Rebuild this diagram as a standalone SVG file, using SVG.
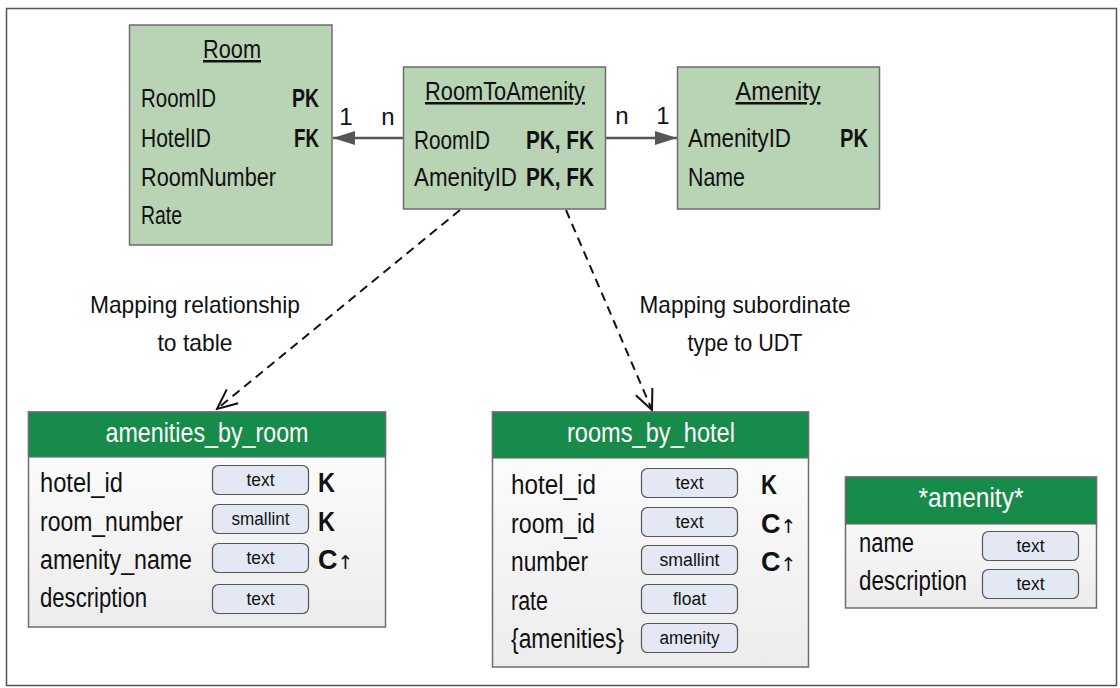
<svg xmlns="http://www.w3.org/2000/svg" width="1120" height="688" viewBox="0 0 1120 688">
<defs>
<linearGradient id="body" x1="0" y1="0" x2="0" y2="1">
<stop offset="0" stop-color="#ffffff"/>
<stop offset="1" stop-color="#ececec"/>
</linearGradient>
<marker id="solidHead" viewBox="0 0 22 14" refX="22" refY="7" markerWidth="22" markerHeight="14" markerUnits="userSpaceOnUse" orient="auto">
<path d="M0,0 L22,7 L0,14 Z" fill="#555555"/>
</marker>
<marker id="openHead" viewBox="0 0 24 24" refX="22" refY="12" markerWidth="24" markerHeight="24" markerUnits="userSpaceOnUse" orient="auto">
<path d="M2,3 L22,12 L2,21" fill="none" stroke="#111111" stroke-width="2"/>
</marker>
</defs>
<style>
text{font-family:"Liberation Sans",Arial,sans-serif;fill:#111111}
.er{fill:#b9d3b5;stroke:#6e6e6e;stroke-width:1.5}
.hdr{fill:#178b49;stroke:#6e6e6e;stroke-width:1.2}
.bdy{fill:url(#body);stroke:#6e6e6e;stroke-width:1.5}
.typ{fill:#e4e8f4;stroke:#555555;stroke-width:1.2}
.f{font-size:25px}
.g{font-size:27px}
.fb{font-size:25px;font-weight:bold}
.gb{font-size:27px;font-weight:bold}
.t{font-size:18px;text-anchor:middle}
.h{font-size:27px;fill:#ffffff;text-anchor:middle}
.ttl{font-size:25px;text-anchor:middle;text-decoration:underline}
.lbl{font-size:24px;text-anchor:middle}
.r{text-anchor:end}
.up{font-family:"DejaVu Sans",sans-serif;font-weight:normal;font-size:19px;fill:#111111}
</style>
<rect x="6.5" y="8.5" width="1110" height="677" fill="#ffffff" stroke="#555555" stroke-width="1.5"/>

<g id="connectors">
<line x1="403" y1="138" x2="333" y2="138" stroke="#555555" stroke-width="2.5" marker-end="url(#solidHead)"/>
<line x1="606" y1="138" x2="677" y2="138" stroke="#555555" stroke-width="2.5" marker-end="url(#solidHead)"/>
<line x1="460" y1="210" x2="217" y2="409" stroke="#111111" stroke-width="2" stroke-dasharray="9,6" marker-end="url(#openHead)"/>
<line x1="566" y1="210" x2="652" y2="410" stroke="#111111" stroke-width="2" stroke-dasharray="9,6" marker-end="url(#openHead)"/>
<text class="lbl" x="346" y="125">1</text>
<text class="lbl" x="388" y="125">n</text>
<text class="lbl" x="622" y="124">n</text>
<text class="lbl" x="663" y="124">1</text>
<text class="lbl" x="195" y="313" textLength="210" lengthAdjust="spacingAndGlyphs">Mapping relationship</text>
<text class="lbl" x="195" y="351" textLength="75" lengthAdjust="spacingAndGlyphs">to table</text>
<text class="lbl" x="745" y="313" textLength="211" lengthAdjust="spacingAndGlyphs">Mapping subordinate</text>
<text class="lbl" x="745" y="351" textLength="115" lengthAdjust="spacingAndGlyphs">type to UDT</text>
</g>

<g id="Room">
<rect class="er" x="129.5" y="25" width="202.5" height="220"/>
<text class="ttl" x="232" y="58" textLength="58" lengthAdjust="spacingAndGlyphs">Room</text>
<text class="f" x="141" y="107" textLength="75" lengthAdjust="spacingAndGlyphs">RoomID</text>
<text class="fb r" x="319" y="107" textLength="27" lengthAdjust="spacingAndGlyphs">PK</text>
<text class="f" x="141" y="147" textLength="70" lengthAdjust="spacingAndGlyphs">HotelID</text>
<text class="fb r" x="319" y="147" textLength="25" lengthAdjust="spacingAndGlyphs">FK</text>
<text class="f" x="141" y="186" textLength="135" lengthAdjust="spacingAndGlyphs">RoomNumber</text>
<text class="f" x="141" y="224" textLength="41" lengthAdjust="spacingAndGlyphs">Rate</text>
</g>

<g id="RoomToAmenity">
<rect class="er" x="403.5" y="67" width="202" height="142"/>
<text class="ttl" x="505" y="100" textLength="160" lengthAdjust="spacingAndGlyphs">RoomToAmenity</text>
<text class="f" x="414" y="149" textLength="76" lengthAdjust="spacingAndGlyphs">RoomID</text>
<text class="fb r" x="594" y="149" textLength="68" lengthAdjust="spacingAndGlyphs">PK, FK</text>
<text class="f" x="414" y="186" textLength="103" lengthAdjust="spacingAndGlyphs">AmenityID</text>
<text class="fb r" x="594" y="186" textLength="68" lengthAdjust="spacingAndGlyphs">PK, FK</text>
</g>

<g id="Amenity">
<rect class="er" x="677.5" y="67" width="202" height="142"/>
<text class="ttl" x="778" y="100" textLength="85" lengthAdjust="spacingAndGlyphs">Amenity</text>
<text class="f" x="688" y="147" textLength="103" lengthAdjust="spacingAndGlyphs">AmenityID</text>
<text class="fb r" x="868" y="147" textLength="28" lengthAdjust="spacingAndGlyphs">PK</text>
<text class="f" x="688" y="186" textLength="57" lengthAdjust="spacingAndGlyphs">Name</text>
</g>

<g id="amenities_by_room">
<rect class="bdy" x="28.5" y="412" width="357" height="215"/>
<rect class="hdr" x="28.5" y="412" width="357" height="45"/>
<text class="h" x="207" y="442" textLength="203" lengthAdjust="spacingAndGlyphs">amenities_by_room</text>
<text class="g" x="40" y="492" textLength="83" lengthAdjust="spacingAndGlyphs">hotel_id</text>
<rect class="typ" x="212.5" y="465.5" width="96" height="29" rx="6"/>
<text class="t" x="260.5" y="486" textLength="28" lengthAdjust="spacingAndGlyphs">text</text>
<text class="gb" x="318" y="492" textLength="17" lengthAdjust="spacingAndGlyphs">K</text>
<text class="g" x="40" y="531" textLength="143" lengthAdjust="spacingAndGlyphs">room_number</text>
<rect class="typ" x="212.5" y="504.5" width="96" height="29" rx="6"/>
<text class="t" x="260.5" y="525" textLength="58" lengthAdjust="spacingAndGlyphs">smallint</text>
<text class="gb" x="318" y="531" textLength="17" lengthAdjust="spacingAndGlyphs">K</text>
<text class="g" x="40" y="569" textLength="152" lengthAdjust="spacingAndGlyphs">amenity_name</text>
<rect class="typ" x="212.5" y="543.5" width="96" height="29" rx="6"/>
<text class="t" x="260.5" y="564" textLength="28" lengthAdjust="spacingAndGlyphs">text</text>
<text class="gb" x="318" y="569">C<tspan class="up">↑</tspan></text>
<text class="g" x="40" y="607" textLength="107" lengthAdjust="spacingAndGlyphs">description</text>
<rect class="typ" x="212.5" y="584.5" width="96" height="29" rx="6"/>
<text class="t" x="260.5" y="605" textLength="28" lengthAdjust="spacingAndGlyphs">text</text>
</g>

<g id="rooms_by_hotel">
<rect class="bdy" x="492.5" y="412" width="316" height="255"/>
<rect class="hdr" x="492.5" y="412" width="316" height="46"/>
<text class="h" x="651" y="442" textLength="168" lengthAdjust="spacingAndGlyphs">rooms_by_hotel</text>
<text class="g" x="511" y="494" textLength="85" lengthAdjust="spacingAndGlyphs">hotel_id</text>
<rect class="typ" x="641.5" y="468.5" width="96" height="29" rx="6"/>
<text class="t" x="689.5" y="489" textLength="28" lengthAdjust="spacingAndGlyphs">text</text>
<text class="gb" x="761" y="494" textLength="16" lengthAdjust="spacingAndGlyphs">K</text>
<text class="g" x="511" y="533" textLength="84" lengthAdjust="spacingAndGlyphs">room_id</text>
<rect class="typ" x="641.5" y="507.5" width="96" height="29" rx="6"/>
<text class="t" x="689.5" y="528" textLength="28" lengthAdjust="spacingAndGlyphs">text</text>
<text class="gb" x="761" y="533">C<tspan class="up">↑</tspan></text>
<text class="g" x="511" y="571" textLength="77" lengthAdjust="spacingAndGlyphs">number</text>
<rect class="typ" x="641.5" y="545.5" width="96" height="29" rx="6"/>
<text class="t" x="689.5" y="566" textLength="60" lengthAdjust="spacingAndGlyphs">smallint</text>
<text class="gb" x="761" y="571">C<tspan class="up">↑</tspan></text>
<text class="g" x="511" y="610" textLength="37" lengthAdjust="spacingAndGlyphs">rate</text>
<rect class="typ" x="641.5" y="584.5" width="96" height="29" rx="6"/>
<text class="t" x="689.5" y="605" textLength="33" lengthAdjust="spacingAndGlyphs">float</text>
<text class="g" x="511" y="648" textLength="113" lengthAdjust="spacingAndGlyphs">{amenities}</text>
<rect class="typ" x="641.5" y="623.5" width="96" height="29" rx="6"/>
<text class="t" x="689.5" y="644" textLength="60" lengthAdjust="spacingAndGlyphs">amenity</text>
</g>

<g id="amenity_udt">
<rect class="bdy" x="845.5" y="477" width="251" height="131"/>
<rect class="hdr" x="845.5" y="477" width="251" height="47"/>
<text class="h" x="971" y="507" textLength="105" lengthAdjust="spacingAndGlyphs">*amenity*</text>
<text class="g" x="859" y="552" textLength="55" lengthAdjust="spacingAndGlyphs">name</text>
<rect class="typ" x="982.5" y="531.5" width="96" height="29" rx="6"/>
<text class="t" x="1030.5" y="552" textLength="28" lengthAdjust="spacingAndGlyphs">text</text>
<text class="g" x="859" y="590" textLength="108" lengthAdjust="spacingAndGlyphs">description</text>
<rect class="typ" x="982.5" y="569.5" width="96" height="29" rx="6"/>
<text class="t" x="1030.5" y="590" textLength="28" lengthAdjust="spacingAndGlyphs">text</text>
</g>
</svg>
